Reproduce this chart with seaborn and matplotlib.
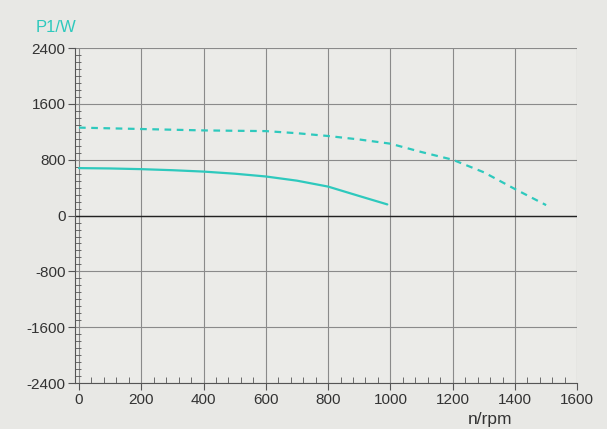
import pandas as pd
import matplotlib.pyplot as plt
import seaborn as sns
from matplotlib.ticker import MultipleLocator

# speed (rpm) and input power (W)
speed_a = [0, 100, 200, 300, 400, 500, 600, 700, 800, 900, 1000, 1100, 1200, 1300, 1400, 1500]
power_a = [1260, 1250, 1240, 1230, 1220, 1215, 1210, 1180, 1140, 1090, 1030, 910, 800, 620, 380, 150]

speed_b = [0, 100, 200, 300, 400, 500, 600, 700, 800, 900, 990]
power_b = [680, 675, 665, 650, 630, 600, 560, 500, 415, 280, 160]

df = pd.concat([
    pd.DataFrame({'n': speed_a, 'P1': power_a, 'curve': 'a'}),
    pd.DataFrame({'n': speed_b, 'P1': power_b, 'curve': 'b'}),
])

sns.set_style('white')
plt.rcParams['font.family'] = ['Liberation Sans', 'DejaVu Sans']
plt.rcParams['axes.unicode_minus'] = False

bg = '#e8e8e5'
teal = '#2ec9bd'

fig = plt.figure(figsize=(6.07, 4.29), dpi=100, facecolor=bg)
ax = fig.add_axes([0.124, 0.107, 0.827, 0.781])
ax.set_facecolor('#ebebe8')

sns.lineplot(data=df, x='n', y='P1', style='curve', dashes={'a': (3, 2.5), 'b': ''},
             color=teal, linewidth=1.6, legend=False, ax=ax)

ax.set_xlim(-12, 1600)
ax.set_ylim(-2400, 2400)
ax.xaxis.set_major_locator(MultipleLocator(200))
ax.xaxis.set_minor_locator(MultipleLocator(40))
ax.yaxis.set_major_locator(MultipleLocator(800))
ax.yaxis.set_minor_locator(MultipleLocator(100))
ax.grid(True, which='major', color='#8a8a8a', linewidth=0.8)
ax.axhline(0, color='#222222', linewidth=1.0)

for s in ['top', 'right']:
    ax.spines[s].set_visible(False)
for s in ['left', 'bottom']:
    ax.spines[s].set_color('#555555')

ax.tick_params(bottom=True, left=True)
ax.tick_params(which='major', direction='out', length=5, color='#555555',
               labelsize=11, labelcolor='#333333')
ax.tick_params(which='minor', direction='in', length=4, color='#555555',
               bottom=True, left=True)
ax.tick_params(axis='x', which='major', pad=2)
ax.tick_params(axis='y', which='major', pad=2)

ax.set_xlabel('')
ax.set_ylabel('')
fig.text(0.058, 0.925, 'P1/W', color=teal, fontsize=12)
fig.text(0.77, 0.012, 'n/rpm', color='#333333', fontsize=12.5)

fig.savefig('out.png', dpi=100, facecolor=bg)
